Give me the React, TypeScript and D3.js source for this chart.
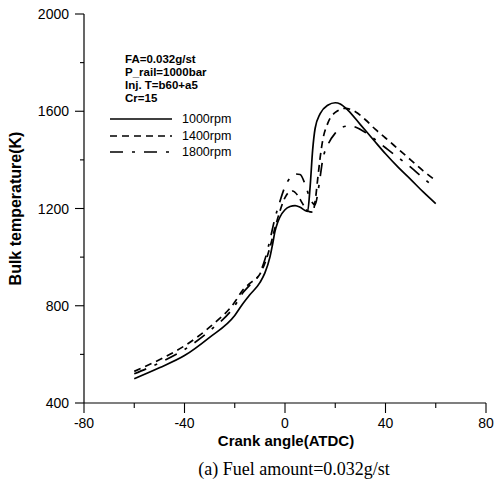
import React from "react";
import * as d3 from "d3";

const xTicksMajor = [-80, -40, 0, 40, 80];
const xTicksMinor = [-60, -20, 20, 60];
const yTicksMajor = [400, 800, 1200, 1600, 2000];
const yTicksMinor = [600, 1000, 1400, 1800];

const angle1000 = [-60, -50, -40, -30, -20, -17, -14, -10, -8, -6, -5, -4, -3, -2, 0, 2, 4, 6, 8, 9, 10, 11, 12, 14, 17, 20, 22, 25, 30, 35, 40, 45, 50, 55, 60];
const temp1000 = [500, 545, 595, 670, 760, 805, 845, 895, 935, 1000, 1050, 1105, 1140, 1165, 1195, 1208, 1212, 1205, 1192, 1188, 1290, 1440, 1530, 1590, 1625, 1635, 1630, 1605, 1545, 1485, 1425, 1370, 1320, 1268, 1220];

const angle1400 = [-60, -50, -40, -30, -20, -17, -14, -10, -8, -6, -4, -2, 0, 2, 3, 5, 7, 9, 11, 12, 13, 14, 15, 17, 20, 24, 28, 32, 36, 40, 45, 50, 55, 60];
const temp1400 = [530, 578, 635, 712, 815, 862, 892, 930, 975, 1040, 1120, 1190, 1245, 1270, 1272, 1255, 1220, 1190, 1185, 1230, 1320, 1410, 1480, 1550, 1595, 1612, 1598, 1565, 1525, 1490, 1445, 1400, 1355, 1315];

const angle1800 = [-60, -50, -40, -30, -20, -17, -14, -10, -8, -6, -4, -2, 0, 2, 4, 6, 8, 10, 12, 13, 14, 15, 17, 20, 23, 26, 30, 35, 40, 45, 50, 55, 60];
const temp1800 = [520, 565, 620, 697, 800, 850, 885, 935, 990, 1070, 1160, 1230, 1290, 1325, 1342, 1340, 1300, 1240, 1215, 1260, 1330, 1400, 1460, 1510, 1535, 1540, 1525, 1490, 1450, 1410, 1370, 1325, 1285];

const headerLines = ["FA=0.032g/st", "P_rail=1000bar", "Inj. T=b60+a5", "Cr=15"];
const seriesNames = ["1000rpm", "1400rpm", "1800rpm"];
const dashes = [null, "7,5", "13,9,3,9"];

const W = 495;
const H = 491;

export default function App() {
  const x = d3.scaleLinear().domain([-80, 80]).range([84, 486]);
  const y = d3.scaleLinear().domain([400, 2000]).range([403, 14]);
  const line = d3
    .line<[number, number]>()
    .x((d) => x(d[0]))
    .y((d) => y(d[1]))
    .curve(d3.curveMonotoneX);

  const series = [
    { a: angle1000, t: temp1000 },
    { a: angle1400, t: temp1400 },
    { a: angle1800, t: temp1800 },
  ];

  const sans = "'Liberation Sans', Arial, sans-serif";
  const legendY = [119, 136, 152];

  return (
    <svg
      width={W}
      height={H}
      style={{ position: "absolute", left: 0, top: 0, background: "#fff" }}
    >
      <rect width={W} height={H} fill="#fff" />
      {/* axes */}
      <line x1={x(-80)} x2={x(-80)} y1={y(2000)} y2={y(400)} stroke="#000" strokeWidth={1.2} />
      <line x1={x(-80)} x2={x(80)} y1={y(400)} y2={y(400)} stroke="#000" strokeWidth={1.2} />
      {yTicksMajor.map((v) => (
        <g key={"ym" + v}>
          <line x1={x(-80) - 9} x2={x(-80)} y1={y(v)} y2={y(v)} stroke="#000" strokeWidth={1.1} />
          <text x={69} y={y(v) + 5} textAnchor="end" fontFamily={sans} fontSize={14}>
            {v}
          </text>
        </g>
      ))}
      {yTicksMinor.map((v) => (
        <line key={"yn" + v} x1={x(-80) - 4} x2={x(-80)} y1={y(v)} y2={y(v)} stroke="#000" strokeWidth={1.1} />
      ))}
      {xTicksMajor.map((v) => (
        <g key={"xm" + v}>
          <line x1={x(v)} x2={x(v)} y1={y(400)} y2={y(400) + 10} stroke="#000" strokeWidth={1.1} />
          <text x={x(v)} y={428} textAnchor="middle" fontFamily={sans} fontSize={14}>
            {v}
          </text>
        </g>
      ))}
      {xTicksMinor.map((v) => (
        <line key={"xn" + v} x1={x(v)} x2={x(v)} y1={y(400)} y2={y(400) + 5} stroke="#000" strokeWidth={1.1} />
      ))}
      {/* axis titles */}
      <text x={286} y={446} textAnchor="middle" fontFamily={sans} fontWeight="bold" fontSize={15}>
        Crank angle(ATDC)
      </text>
      <text
        transform={`translate(21,${y(1200)}) rotate(-90)`}
        textAnchor="middle"
        fontFamily={sans}
        fontWeight="bold"
        fontSize={16}
      >
        Bulk temperature(K)
      </text>
      <text x={294} y={475} textAnchor="middle" fontFamily="'Liberation Serif', 'Times New Roman', serif" fontSize={18}>
        (a) Fuel amount=0.032g/st
      </text>
      {/* curves */}
      {series.map((s, i) => (
        <path
          key={i}
          d={line(s.a.map((a, j) => [a, s.t[j]]) as [number, number][]) || ""}
          fill="none"
          stroke="#000"
          strokeWidth={1.7}
          strokeDasharray={dashes[i] || undefined}
        />
      ))}
      {/* legend */}
      {headerLines.map((t, i) => (
        <text key={t} x={125} y={63 + i * 13} fontFamily={sans} fontWeight="bold" fontSize={11.5}>
          {t}
        </text>
      ))}
      {seriesNames.map((n, i) => (
        <g key={n}>
          <line
            x1={110}
            x2={172}
            y1={legendY[i]}
            y2={legendY[i]}
            stroke="#000"
            strokeWidth={1.5}
            strokeDasharray={dashes[i] || undefined}
          />
          <text x={182} y={legendY[i] + 4} fontFamily={sans} fontSize={12.5}>
            {n}
          </text>
        </g>
      ))}
    </svg>
  );
}
